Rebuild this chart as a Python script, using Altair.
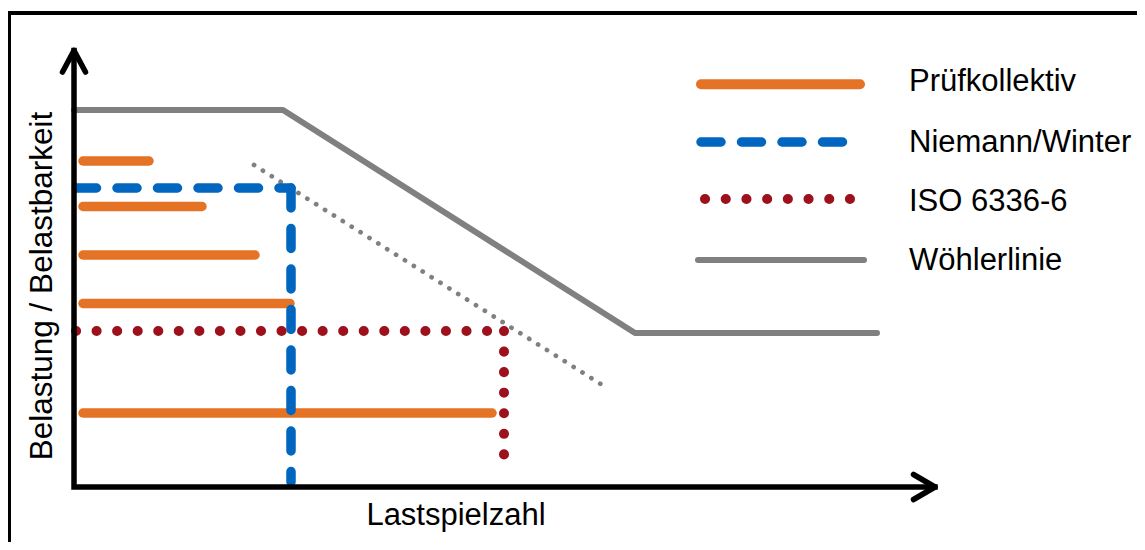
import altair as alt
import pandas as pd

# ---------------- data (schematic units, origin = axis corner) ----------------
# Wöhlerlinie (S-N curve)
woehler_x = [0, 209, 561, 803]
woehler_y = [377, 377, 154, 154]

# dotted extension of the sloped part
ext_x = [180, 533]
ext_y = [322, 99]

# Prüfkollektiv (load spectrum blocks)
pk_x_start = [9, 9, 9, 9, 9]
pk_x_end = [75, 128, 181, 216, 418]
pk_y = [326, 280.5, 232, 183.5, 74]

# Niemann/Winter (equivalent load, dashed)
nw_seg = ["h", "h", "v", "v"]
nw_x = [2.5, 217, 217, 217]
nw_y = [299, 299, 299, 5]

# ISO 6336-6 (equivalent load, dotted)
iso_seg = ["h", "h", "v", "v"]
iso_x = [2, 430, 430, 430]
iso_y = [156, 156, 156, 12.5]

# legend
legend_labels = ["Prüfkollektiv", "Niemann/Winter", "ISO 6336-6", "Wöhlerlinie"]
legend_line_y = [402.7, 345, 288, 227]
legend_x_start = [627, 627, 631, 624]
legend_x_end = [786, 786, 776, 790]
legend_text_x = [835, 835, 835, 835]
legend_text_y = [396, 335.3, 276, 217]

# axes (with arrow heads) and frame
axis_x = [0, 0, 861]
axis_y = [436.5, 0, 0]
arrow_up_x = [-11.5, 0, 11.5]
arrow_up_y = [415, 436.5, 415]
arrow_right_x = [839.5, 861, 839.5]
arrow_right_y = [12.5, 0, -12.5]
frame_x = [-65, -65, 1075]
frame_y = [-80, 474, 474]

x_title = "Lastspielzahl"
y_title = "Belastung / Belastbarkeit"

# ---------------- styling ----------------
ORANGE = "#E47326"
BLUE = "#0066C0"
RED = "#9C111B"
GRAY = "#808080"
FONT = "Liberation Sans"
FS = 31

W, H = 1129, 534
xs = alt.Scale(domain=[-66, W - 66], nice=False, zero=False)
ys = alt.Scale(domain=[479 - H, 479], nice=False, zero=False)


def X(f="x"):
    return alt.X(f"{f}:Q", scale=xs, axis=None)


def Y(f="y"):
    return alt.Y(f"{f}:Q", scale=ys, axis=None)


def polyline(xv, yv, seg=None, **mk):
    df = pd.DataFrame({"x": xv, "y": yv, "o": list(range(len(xv))),
                       "s": seg if seg is not None else ["a"] * len(xv)})
    return alt.Chart(df).mark_line(**mk).encode(
        x=X(), y=Y(), order="o:Q", detail="s:N")


layers = []

# frame
layers.append(polyline(frame_x, frame_y, color="black", strokeWidth=4,
                       strokeJoin="miter", strokeCap="square"))

# Wöhlerlinie
layers.append(polyline(woehler_x, woehler_y, color=GRAY, strokeWidth=6,
                       strokeCap="round", strokeJoin="round"))
# dotted extension
layers.append(polyline(ext_x, ext_y, color=GRAY, strokeWidth=4.7,
                       strokeCap="round", strokeDash=[0.1, 10.4]))

# Prüfkollektiv
pk_df = pd.DataFrame({"x0": pk_x_start, "x1": pk_x_end, "y": pk_y})
layers.append(alt.Chart(pk_df).mark_rule(color=ORANGE, strokeWidth=9.5,
                                         strokeCap="round").encode(
    x=X("x0"), x2="x1:Q", y=Y()))

# Niemann/Winter
layers.append(polyline(nw_x, nw_y, seg=nw_seg, color=BLUE, strokeWidth=9.5,
                       strokeCap="round", strokeDash=[20, 20.5]))

# ISO 6336-6
layers.append(polyline(iso_x, iso_y, seg=iso_seg, color=RED, strokeWidth=10,
                       strokeCap="round", strokeDash=[0.1, 20.45]))

# axes
layers.append(polyline(axis_x, axis_y, color="black", strokeWidth=5.5,
                       strokeJoin="miter", strokeCap="square"))
layers.append(polyline(arrow_up_x, arrow_up_y, color="black", strokeWidth=5.5,
                       strokeJoin="round", strokeCap="round"))
layers.append(polyline(arrow_right_x, arrow_right_y, color="black", strokeWidth=5.5,
                       strokeJoin="round", strokeCap="round"))

# legend symbols
leg_styles = [
    dict(color=ORANGE, strokeWidth=10, strokeCap="round"),
    dict(color=BLUE, strokeWidth=9.5, strokeCap="round", strokeDash=[20, 20.5]),
    dict(color=RED, strokeWidth=10, strokeCap="round", strokeDash=[0.1, 20.6]),
    dict(color=GRAY, strokeWidth=6, strokeCap="round"),
]
for i, st in enumerate(leg_styles):
    layers.append(polyline([legend_x_start[i], legend_x_end[i]],
                           [legend_line_y[i], legend_line_y[i]], **st))

# legend labels
lt_df = pd.DataFrame({"x": legend_text_x, "y": legend_text_y, "t": legend_labels})
layers.append(alt.Chart(lt_df).mark_text(align="left", baseline="alphabetic",
                                         font=FONT, fontSize=FS, color="black").encode(
    x=X(), y=Y(), text="t:N"))

# axis titles
xt_df = pd.DataFrame({"x": [382], "y": [-38], "t": [x_title]})
layers.append(alt.Chart(xt_df).mark_text(align="center", baseline="alphabetic",
                                         font=FONT, fontSize=FS, color="black").encode(
    x=X(), y=Y(), text="t:N"))
yt_df = pd.DataFrame({"x": [-22], "y": [201], "t": [y_title]})
layers.append(alt.Chart(yt_df).mark_text(align="center", baseline="alphabetic", angle=270,
                                         font=FONT, fontSize=31.5, color="black").encode(
    x=X(), y=Y(), text="t:N"))

chart = alt.layer(*layers).properties(
    width=W, height=H, padding=0,
    autosize=alt.AutoSizeParams(type="none"),
    background="white",
).configure_view(stroke=None)

chart.save("out.html", embed_options={"renderer": "svg", "actions": False})
